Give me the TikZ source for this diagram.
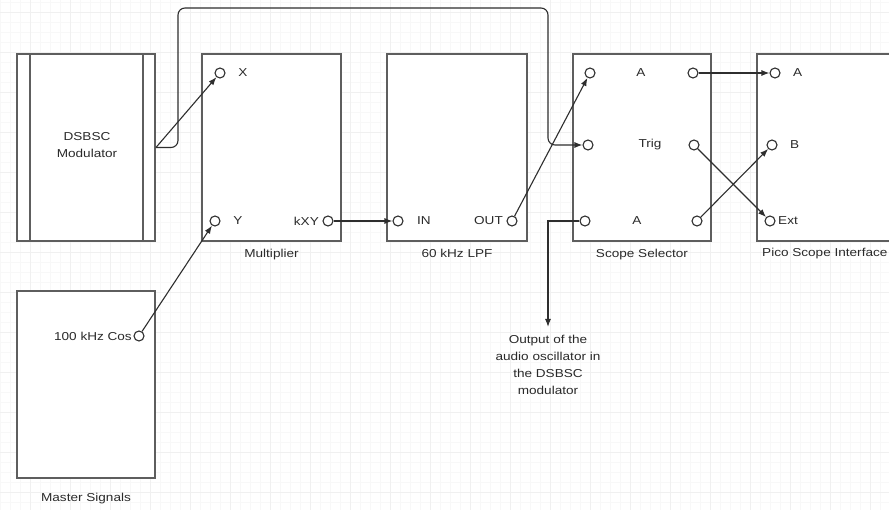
\documentclass[tikz,border=0pt]{standalone}
\usepackage{fontspec}
\setmainfont{Liberation Sans}[FakeStretch=1.18]
\usetikzlibrary{arrows.meta,positioning,calc}

\definecolor{boxgray}{HTML}{5E5E5E}
\definecolor{wiregray}{HTML}{2E2E2E}
\definecolor{textgray}{HTML}{2A2A2A}
\definecolor{gridminor}{HTML}{F8F8F8}
\definecolor{gridmajor}{HTML}{F0F0F0}

\tikzset{
    module/.style={draw=boxgray, line width=1.9pt, fill=white,
        minimum width=138pt, minimum height=187pt, inner sep=0pt},
    socket/.style={circle, draw=wiregray, line width=1.1pt, fill=white,
        minimum size=10pt, inner sep=0pt},
    lbl/.style={text=textgray, font=\fontsize{11.5}{17}\selectfont, inner sep=1pt},
    wire/.style={draw=wiregray, line width=1.1pt, -{Latex[length=8pt,width=6pt]}},
}

\begin{document}
\begin{tikzpicture}[x=1pt,y=-1pt]
\useasboundingbox (0,0) rectangle (889,510);
\clip (0,0) rectangle (889,510);
\fill[white] (0,0) rectangle (889,510);
\foreach \gx in {0,10,...,880} \draw[gridminor, line width=0.5pt] (\gx,0) -- (\gx,510);
\foreach \gy in {2,12,...,510} \draw[gridminor, line width=0.5pt] (0,\gy) -- (889,\gy);
\foreach \gx in {30,70,...,870} \draw[gridmajor, line width=0.6pt] (\gx,0) -- (\gx,510);
\foreach \gy in {12,52,...,500} \draw[gridmajor, line width=0.6pt] (0,\gy) -- (889,\gy);

% modules
\node[module] (dsbsc) at (86,147.5) {};
\draw[boxgray, line width=1.9pt] ($(dsbsc.north west)+(14,0)$) -- ($(dsbsc.south west)+(14,0)$);
\draw[boxgray, line width=1.9pt] ($(dsbsc.north east)+(-13,0)$) -- ($(dsbsc.south east)+(-13,0)$);
\node[lbl, align=center] (dsbscname) at (87,145) {DSBSC\\Modulator};

\node[module, minimum width=139pt] (mult) at (271.5,147.5) {};
\node[lbl, below=6pt of mult] (multname) {Multiplier};

\node[module, minimum width=140pt] (lpf) at (457,147.5) {};
\node[lbl, below=6pt of lpf] (lpfname) {60 kHz LPF};

\node[module] (sel) at (642,147.5) {};
\node[lbl, below=6pt of sel] (selname) {Scope Selector};

\node[module] (pico) at (826,147.5) {};
\node[lbl, anchor=west] (piconame) at (761,254) {Pico Scope Interface};

\node[module] (master) at (86,384.5) {};
\node[lbl, below=13pt of master] (mastername) {Master Signals};

% sockets
\node[socket] (mulx) at (220,73) {};
\node[socket] (muly) at (215,221) {};
\node[socket] (mulkxy) at (328,221) {};
\node[socket] (lpfin) at (398,221) {};
\node[socket] (lpfout) at (512,221) {};
\node[socket] (selA1) at (590,73) {};
\node[socket] (selT) at (588,145) {};
\node[socket] (selA2) at (585,221) {};
\node[socket] (selRa) at (693,73) {};
\node[socket] (selRt) at (694,145) {};
\node[socket] (selRb) at (697,221) {};
\node[socket] (picoA) at (775,73) {};
\node[socket] (picoB) at (772,145) {};
\node[socket] (picoExt) at (770,221) {};
\node[socket] (cos) at (139,336) {};

% socket labels
\node[lbl] (mulxname) at (243,73) {X};
\node[lbl] (mulyname) at (238,221) {Y};
\node[lbl, anchor=east] (mulkxyname) at (320,221) {kXY};
\node[lbl] (lpfinname) at (424,221) {IN};
\node[lbl, anchor=east] (lpfoutname) at (504,221) {OUT};
\node[lbl] (selA1name) at (641,73) {A};
\node[lbl] (selTname) at (650,145) {Trig};
\node[lbl] (selA2name) at (637,221) {A};
\node[lbl, anchor=west] (picoAname) at (792,73) {A};
\node[lbl, anchor=west] (picoBname) at (789,145) {B};
\node[lbl, anchor=west] (picoExtname) at (777,221) {Ext};
\node[lbl, anchor=east] (cosname) at (133,336) {100 kHz Cos};

% wiring
\coordinate (loopL) at (178,8);
\coordinate (loopR) at (548,8);
\coordinate (audiotip) at (548,327);
\node[lbl, align=center, below=7pt of audiotip] (audio) {Output of the\\audio oscillator in\\the DSBSC\\modulator};

\draw[wire] (dsbsc.east) -- (mulx);
\draw[wire, rounded corners=7pt] (dsbsc.east) -| (loopL) -- (loopR) |- (selT);
\draw[wire] (cos) -- (muly);
\draw[wire] (mulkxy) -- (lpfin);
\draw[wire] (lpfout) -- (selA1);
\draw[wire] (selA2) -| (audiotip);
\draw[wire] (selRa) -- (picoA);
\draw[wire] (selRt) -- (picoExt);
\draw[wire] (selRb) -- (picoB);
\end{tikzpicture}
\end{document}
